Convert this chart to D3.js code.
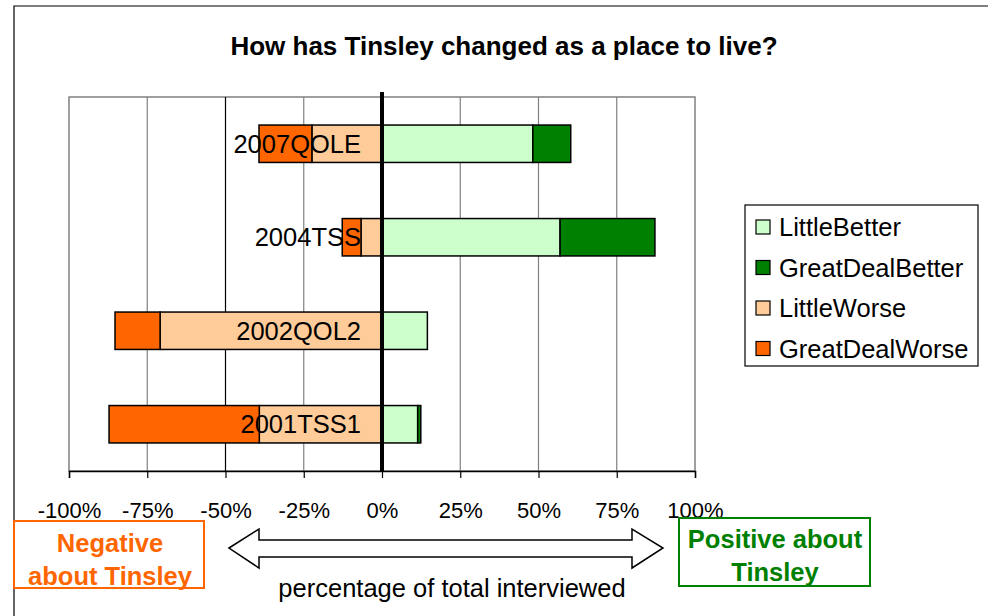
<!DOCTYPE html>
<html>
<head>
<meta charset="utf-8">
<script src="https://unpkg.com/d3@7/dist/d3.min.js"></script>
<style>
  body { margin: 0; background: #fff; }
  text { font-family: "Liberation Sans", Arial, sans-serif; }
</style>
</head>
<body>
<div id="chart"></div>
<script>
// survey results, % of total interviewed
const categories = ['2007QOLE', '2004TSS', '2002QOL2', '2001TSS1']
const littleBetter = [48.2, 56.9, 14.5, 11.4]
const greatDealBetter = [12.1, 30.3, 0, 1.0]
const littleWorse = [22.4, 6.7, 70.9, 39.2]
const greatDealWorse = [16.9, 6.0, 14.4, 48.0]
const seriesNames = ['LittleBetter', 'GreatDealBetter', 'LittleWorse', 'GreatDealWorse']
const seriesColors = ['#CCFFCC', '#008000', '#FFCC99', '#FF6600']
const ticks = [-100, -75, -50, -25, 0, 25, 50, 75, 100]

const W = 988, H = 616
const plot = { left: 69, right: 695, top: 97, bottom: 471 }

const svg = d3.select('#chart').append('svg')
  .attr('width', W).attr('height', H)

// outer frame
svg.append('path')
  .attr('d', `M14,${H} L14,6 L${W},6`)
  .attr('fill', 'none').attr('stroke', '#000').attr('stroke-width', 1.2)

svg.append('text')
  .attr('x', 504).attr('y', 55)
  .attr('text-anchor', 'middle')
  .attr('font-size', 26).attr('font-weight', 'bold')
  .text('How has Tinsley changed as a place to live?')

const x = d3.scaleLinear().domain([-100, 100]).range([plot.left, plot.right])
const y = d3.scaleBand().domain(categories).range([plot.top, plot.bottom])
  .paddingInner(0.6).paddingOuter(0.3)

// plot area + gridlines
svg.append('rect')
  .attr('x', plot.left).attr('y', plot.top)
  .attr('width', plot.right - plot.left).attr('height', plot.bottom - plot.top)
  .attr('fill', '#fff').attr('stroke', '#808080').attr('stroke-width', 1.5)

svg.append('g').selectAll('line')
  .data(ticks.filter(t => t !== 0 && Math.abs(t) !== 100))
  .enter().append('line')
  .attr('x1', d => x(d)).attr('x2', d => x(d))
  .attr('y1', plot.top).attr('y2', plot.bottom)
  .attr('stroke', d => d === -50 ? '#000' : '#808080')
  .attr('stroke-width', 1.2)

// stacked bars
const rows = categories.map((c, i) => {
  const segs = []
  segs.push({ s: 0, x0: 0, x1: littleBetter[i] })
  segs.push({ s: 1, x0: littleBetter[i], x1: littleBetter[i] + greatDealBetter[i] })
  segs.push({ s: 2, x0: -littleWorse[i], x1: 0 })
  segs.push({ s: 3, x0: -littleWorse[i] - greatDealWorse[i], x1: -littleWorse[i] })
  return { cat: c, segs: segs.filter(d => d.x1 > d.x0) }
})

const bar = svg.selectAll('g.bar')
  .data(rows)
  .enter().append('g')
  .attr('class', 'bar')
  .attr('transform', d => `translate(0, ${y(d.cat)})`)

bar.selectAll('rect')
  .data(d => d.segs)
  .enter().append('rect')
  .attr('x', d => x(d.x0))
  .attr('width', d => x(d.x1) - x(d.x0))
  .attr('height', y.bandwidth())
  .attr('fill', d => seriesColors[d.s])
  .attr('stroke', '#000').attr('stroke-width', 1.5)

// x axis
const axis = svg.append('g')
  .attr('transform', `translate(0, ${plot.bottom})`)
  .call(d3.axisBottom(x).tickValues(ticks).tickFormat(d => d + '%').tickSize(7).tickPadding(24))
axis.select('.domain').attr('stroke', '#000').attr('stroke-width', 1.5)
axis.selectAll('.tick line').attr('stroke', '#000').attr('stroke-width', 1.2)
axis.selectAll('.tick text')
  .attr('font-size', 22).attr('font-family', '"Liberation Sans", Arial, sans-serif').attr('fill', '#000')

// zero line
svg.append('line')
  .attr('x1', x(0)).attr('x2', x(0))
  .attr('y1', 92).attr('y2', plot.bottom)
  .attr('stroke', '#000').attr('stroke-width', 4)

// category labels
bar.append('text')
  .attr('x', x(0) - 21)
  .attr('y', y.bandwidth() / 2)
  .attr('dy', '0.36em')
  .attr('text-anchor', 'end')
  .attr('font-size', 25.5)
  .text(d => d.cat)

// legend
const legend = svg.append('g').attr('transform', 'translate(745, 205)')
legend.append('rect')
  .attr('width', 233).attr('height', 161)
  .attr('fill', '#fff').attr('stroke', '#000').attr('stroke-width', 1.2)
const item = legend.selectAll('g')
  .data(seriesNames)
  .enter().append('g')
  .attr('transform', (d, i) => `translate(0, ${22 + i * 40.5})`)
item.append('rect')
  .attr('x', 11).attr('y', -7).attr('width', 14).attr('height', 14)
  .attr('fill', (d, i) => seriesColors[i])
  .attr('stroke', '#000').attr('stroke-width', 1.2)
item.append('text')
  .attr('x', 34).attr('dy', '0.36em')
  .attr('font-size', 25.5)
  .text(d => d)

// bottom annotations
svg.append('rect')
  .attr('x', 14).attr('y', 521).attr('width', 190).attr('height', 67)
  .attr('fill', 'none').attr('stroke', '#FF6600').attr('stroke-width', 2)
svg.append('text')
  .attr('x', 110).attr('text-anchor', 'middle')
  .attr('font-size', 25.5).attr('font-weight', 'bold').attr('fill', '#FF6600')
  .selectAll('tspan')
  .data(['Negative', 'about Tinsley'])
  .enter().append('tspan')
  .attr('x', 110).attr('y', (d, i) => 552 + i * 33)
  .text(d => d)

svg.append('rect')
  .attr('x', 679).attr('y', 518).attr('width', 191).attr('height', 68)
  .attr('fill', 'none').attr('stroke', '#008000').attr('stroke-width', 2)
svg.append('text')
  .attr('x', 775).attr('text-anchor', 'middle')
  .attr('font-size', 25.5).attr('font-weight', 'bold').attr('fill', '#008000')
  .selectAll('tspan')
  .data(['Positive about', 'Tinsley'])
  .enter().append('tspan')
  .attr('x', 775).attr('y', (d, i) => 548 + i * 33)
  .text(d => d)

// double-headed arrow
svg.append('path')
  .attr('d', 'M229,548 L259,529 L259,540 L632,540 L632,529 L663,548 L632,568 L632,557 L259,557 L259,568 Z')
  .attr('fill', '#fff').attr('stroke', '#000').attr('stroke-width', 1.5)

svg.append('text')
  .attr('x', 452).attr('y', 597)
  .attr('text-anchor', 'middle')
  .attr('font-size', 25.5)
  .text('percentage of total interviewed')
</script>
</body>
</html>
